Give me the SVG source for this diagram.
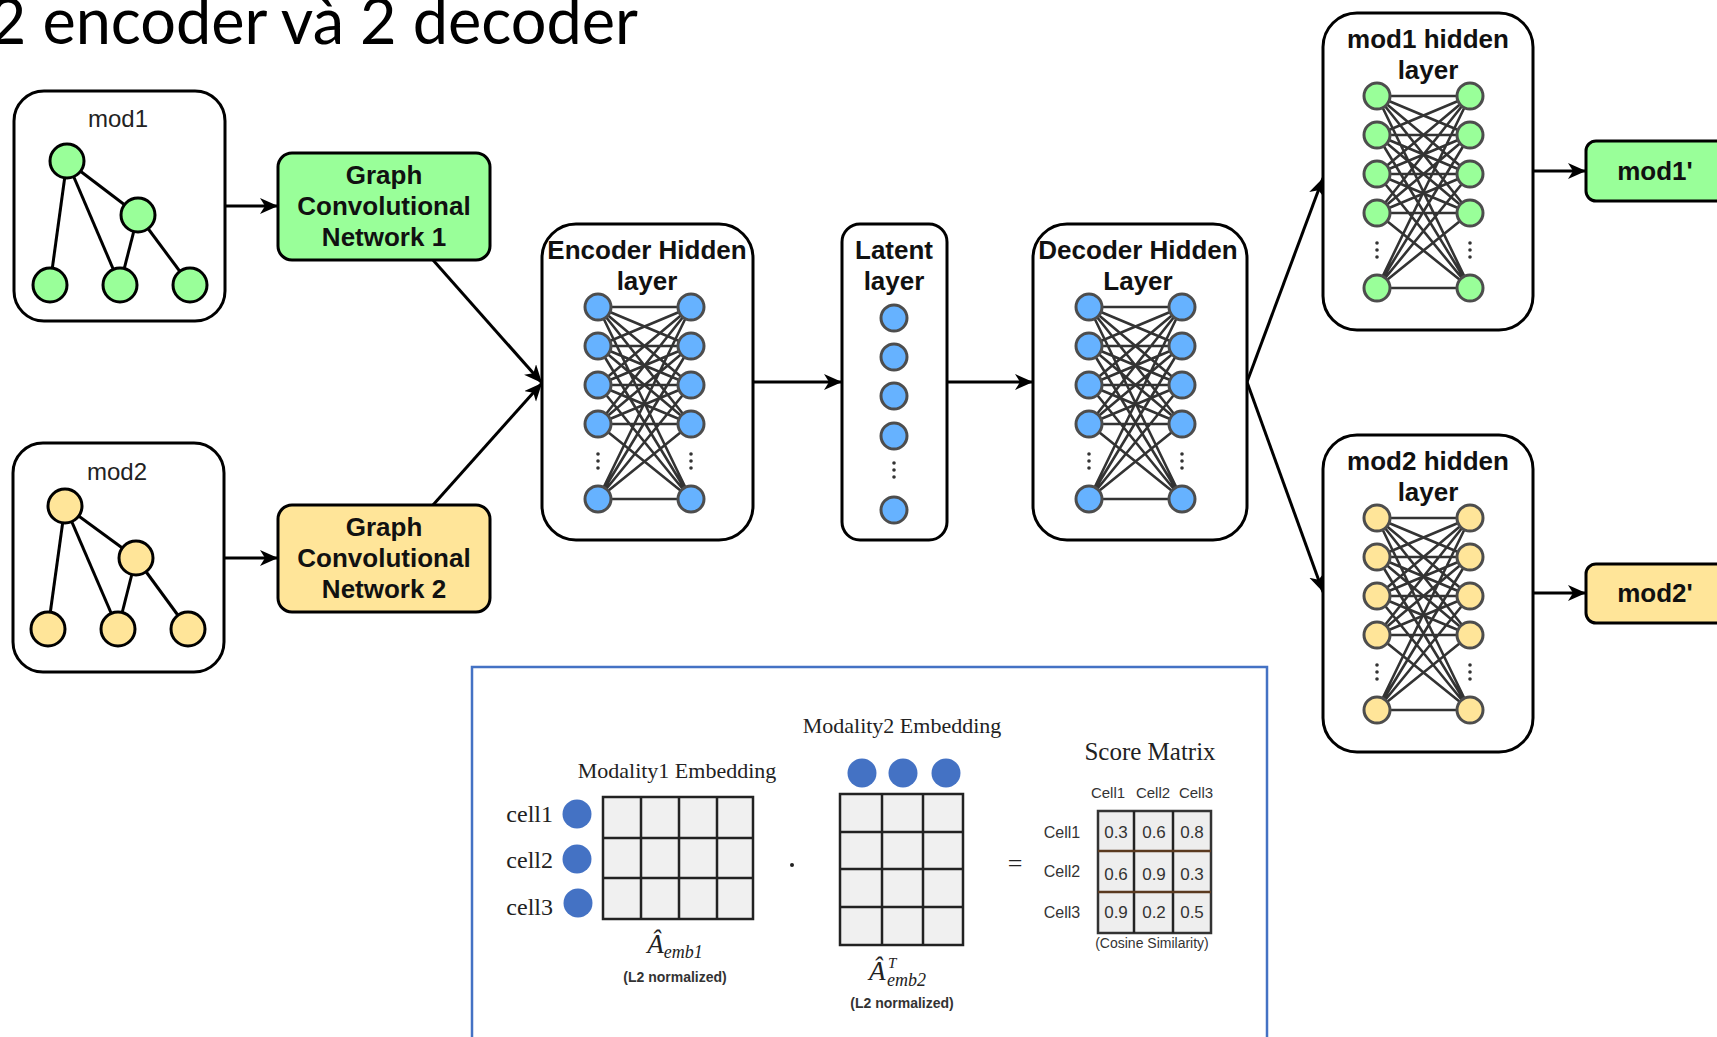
<svg xmlns="http://www.w3.org/2000/svg" xmlns:xlink="http://www.w3.org/1999/xlink" width="1717" height="1037" viewBox="0 0 1717 1037">
<style>
  .box { fill: #ffffff; stroke: #000; stroke-width: 3; }
  .title { font-family: "Liberation Sans", Arial, sans-serif; font-weight: bold; font-size: 26px; fill: #111; text-anchor: middle; }
  .lbl { font-family: "Liberation Sans", Arial, sans-serif; font-size: 24px; fill: #222; text-anchor: middle; }
  .gedge { stroke: #000; stroke-width: 3; fill: none; }
  .gnode { stroke: #000; stroke-width: 3; }
  .green { fill: #99ff99; }
  .yellow { fill: #ffe599; }
  .conn { stroke: #000; stroke-width: 3; fill: none; marker-end: url(#arr); }
  .serif { font-family: "Liberation Serif", "Times New Roman", serif; fill: #222; }
  .small { font-family: "Liberation Sans", Arial, sans-serif; fill: #333; text-anchor: middle; }
  .cell { fill: #f0f0f0; stroke: #222; stroke-width: 2.5; }
  .gl { stroke: #222; stroke-width: 2.5; }
  .bdot { fill: #4472c4; }
</style>
<defs>
  <marker id="arr" markerUnits="userSpaceOnUse" markerWidth="20" markerHeight="18" refX="18" refY="8" orient="auto">
    <path d="M0,0 L18,8 L0,16 L5,8 z" fill="#000"/>
  </marker>
  <g id="net-lines">
    <path stroke="#333" stroke-width="2.6" fill="none" d="M0 0L93 0M0 0L93 39M0 0L93 78M0 0L93 117M0 0L93 192M0 39L93 0M0 39L93 39M0 39L93 78M0 39L93 117M0 39L93 192M0 78L93 0M0 78L93 39M0 78L93 78M0 78L93 117M0 78L93 192M0 117L93 0M0 117L93 39M0 117L93 78M0 117L93 117M0 117L93 192M0 192L93 0M0 192L93 39M0 192L93 78M0 192L93 117M0 192L93 192"/>
    <circle cx="0" cy="147" r="1.8" fill="#333"/><circle cx="0" cy="154" r="1.8" fill="#333"/><circle cx="0" cy="161" r="1.8" fill="#333"/>
    <circle cx="93" cy="147" r="1.8" fill="#333"/><circle cx="93" cy="154" r="1.8" fill="#333"/><circle cx="93" cy="161" r="1.8" fill="#333"/>
  </g>
  <g id="net-nodes" stroke="#4d4d4d" stroke-width="3">
    <circle cx="0" cy="0" r="13"/><circle cx="0" cy="39" r="13"/><circle cx="0" cy="78" r="13"/><circle cx="0" cy="117" r="13"/><circle cx="0" cy="192" r="13"/>
    <circle cx="93" cy="0" r="13"/><circle cx="93" cy="39" r="13"/><circle cx="93" cy="78" r="13"/><circle cx="93" cy="117" r="13"/><circle cx="93" cy="192" r="13"/>
  </g>
</defs>

<rect width="1717" height="1037" fill="#ffffff"/>

<text id="page-title" x="638" y="44" text-anchor="end" font-family="Lato, 'Noto Sans', sans-serif" font-size="63" fill="#000">2 encoder và 2 decoder</text>

<g id="connectors">
  <line class="conn" x1="225" y1="206" x2="278" y2="206"/>
  <line class="conn" x1="224" y1="558" x2="278" y2="558"/>
  <line class="conn" x1="433" y1="260" x2="542" y2="383"/>
  <line class="conn" x1="433" y1="505" x2="542" y2="383"/>
  <line class="conn" x1="753" y1="382" x2="842" y2="382"/>
  <line class="conn" x1="947" y1="382" x2="1033" y2="382"/>
  <line class="conn" x1="1247" y1="382" x2="1323" y2="178"/>
  <line class="conn" x1="1247" y1="382" x2="1323" y2="592"/>
  <line class="conn" x1="1533" y1="171" x2="1586" y2="171"/>
  <line class="conn" x1="1533" y1="593" x2="1586" y2="593"/>
</g>

<g id="mod1">
  <rect class="box" x="14" y="91" width="211" height="230" rx="30"/>
  <text class="lbl" x="118" y="127">mod1</text>
  <line class="gedge" x1="67" y1="161" x2="50" y2="285"/>
  <line class="gedge" x1="67" y1="161" x2="120" y2="285"/>
  <line class="gedge" x1="67" y1="161" x2="138" y2="215"/>
  <line class="gedge" x1="138" y1="215" x2="120" y2="285"/>
  <line class="gedge" x1="138" y1="215" x2="190" y2="285"/>
  <circle class="gnode green" cx="67" cy="161" r="17"/>
  <circle class="gnode green" cx="138" cy="215" r="17"/>
  <circle class="gnode green" cx="50" cy="285" r="17"/>
  <circle class="gnode green" cx="120" cy="285" r="17"/>
  <circle class="gnode green" cx="190" cy="285" r="17"/>
</g>

<g id="mod2">
  <rect class="box" x="13" y="443" width="211" height="229" rx="30"/>
  <text class="lbl" x="117" y="480">mod2</text>
  <line class="gedge" x1="65" y1="506" x2="48" y2="629"/>
  <line class="gedge" x1="65" y1="506" x2="118" y2="629"/>
  <line class="gedge" x1="65" y1="506" x2="136" y2="558"/>
  <line class="gedge" x1="136" y1="558" x2="118" y2="629"/>
  <line class="gedge" x1="136" y1="558" x2="188" y2="629"/>
  <circle class="gnode yellow" cx="65" cy="506" r="17"/>
  <circle class="gnode yellow" cx="136" cy="558" r="17"/>
  <circle class="gnode yellow" cx="48" cy="629" r="17"/>
  <circle class="gnode yellow" cx="118" cy="629" r="17"/>
  <circle class="gnode yellow" cx="188" cy="629" r="17"/>
</g>

<g id="gcn1">
  <rect x="278" y="153" width="212" height="107" rx="14" fill="#99ff99" stroke="#000" stroke-width="3"/>
  <text class="title" x="384" y="184">Graph</text>
  <text class="title" x="384" y="215">Convolutional</text>
  <text class="title" x="384" y="246">Network 1</text>
</g>

<g id="gcn2">
  <rect x="278" y="505" width="212" height="107" rx="14" fill="#ffe599" stroke="#000" stroke-width="3"/>
  <text class="title" x="384" y="536">Graph</text>
  <text class="title" x="384" y="567">Convolutional</text>
  <text class="title" x="384" y="598">Network 2</text>
</g>

<g id="encoder">
  <rect class="box" x="542" y="224" width="211" height="316" rx="34"/>
  <text class="title" x="647" y="259">Encoder Hidden</text>
  <text class="title" x="647" y="290">layer</text>
  <use xlink:href="#net-lines" x="598" y="307"/>
  <use xlink:href="#net-nodes" x="598" y="307" fill="#66b2ff"/>
</g>

<g id="latent">
  <rect class="box" x="842" y="224" width="105" height="316" rx="18"/>
  <text class="title" x="894" y="259">Latent</text>
  <text class="title" x="894" y="290">layer</text>
  <g fill="#66b2ff" stroke="#4d4d4d" stroke-width="3">
    <circle cx="894" cy="318" r="13"/><circle cx="894" cy="357" r="13"/><circle cx="894" cy="396" r="13"/><circle cx="894" cy="436" r="13"/><circle cx="894" cy="510" r="13"/>
  </g>
  <circle cx="894" cy="463" r="1.8" fill="#333"/><circle cx="894" cy="470" r="1.8" fill="#333"/><circle cx="894" cy="477" r="1.8" fill="#333"/>
</g>

<g id="decoder">
  <rect class="box" x="1033" y="224" width="214" height="316" rx="34"/>
  <text class="title" x="1138" y="259">Decoder Hidden</text>
  <text class="title" x="1138" y="290">Layer</text>
  <use xlink:href="#net-lines" x="1089" y="307"/>
  <use xlink:href="#net-nodes" x="1089" y="307" fill="#66b2ff"/>
</g>

<g id="mod1-hidden">
  <rect class="box" x="1323" y="13" width="210" height="317" rx="34"/>
  <text class="title" x="1428" y="48">mod1 hidden</text>
  <text class="title" x="1428" y="79">layer</text>
  <use xlink:href="#net-lines" x="1377" y="96"/>
  <use xlink:href="#net-nodes" x="1377" y="96" fill="#99ff99"/>
</g>

<g id="mod2-hidden">
  <rect class="box" x="1323" y="435" width="210" height="317" rx="34"/>
  <text class="title" x="1428" y="470">mod2 hidden</text>
  <text class="title" x="1428" y="501">layer</text>
  <use xlink:href="#net-lines" x="1377" y="518"/>
  <use xlink:href="#net-nodes" x="1377" y="518" fill="#ffe599"/>
</g>

<g id="mod1-out">
  <rect x="1586" y="141" width="150" height="60" rx="10" fill="#99ff99" stroke="#000" stroke-width="3"/>
  <text class="title" x="1655" y="180">mod1'</text>
</g>

<g id="mod2-out">
  <rect x="1586" y="564" width="150" height="59" rx="10" fill="#ffe599" stroke="#000" stroke-width="3"/>
  <text class="title" x="1655" y="602">mod2'</text>
</g>

<g id="score-panel">
  <rect x="472" y="667" width="795" height="390" fill="#ffffff" stroke="#4472c4" stroke-width="2.5"/>

  <text class="serif" x="677" y="778" font-size="22" text-anchor="middle">Modality1 Embedding</text>
  <text class="serif" x="553" y="822" font-size="24" text-anchor="end">cell1</text>
  <text class="serif" x="553" y="868" font-size="24" text-anchor="end">cell2</text>
  <text class="serif" x="553" y="915" font-size="24" text-anchor="end">cell3</text>
  <circle class="bdot" cx="577" cy="814" r="14.5"/>
  <circle class="bdot" cx="577" cy="859" r="14.5"/>
  <circle class="bdot" cx="578" cy="903" r="14.5"/>
  <rect class="cell" x="603" y="797" width="150" height="122"/>
  <line class="gl" x1="641" y1="797" x2="641" y2="919"/>
  <line class="gl" x1="679" y1="797" x2="679" y2="919"/>
  <line class="gl" x1="717" y1="797" x2="717" y2="919"/>
  <line class="gl" x1="603" y1="838" x2="753" y2="838"/>
  <line class="gl" x1="603" y1="878" x2="753" y2="878"/>
  <text class="serif" x="675" y="953" text-anchor="middle" font-style="italic"><tspan font-size="27">Â</tspan><tspan font-size="18" dy="5">emb1</tspan></text>
  <text class="small" x="675" y="982" font-size="14" font-weight="bold">(L2 normalized)</text>

  <circle cx="792" cy="865" r="2" fill="#222"/>

  <text class="serif" x="902" y="733" font-size="22" text-anchor="middle">Modality2 Embedding</text>
  <circle class="bdot" cx="862" cy="773" r="14.5"/>
  <circle class="bdot" cx="903" cy="773" r="14.5"/>
  <circle class="bdot" cx="946" cy="773" r="14.5"/>
  <rect class="cell" x="840" y="794" width="123" height="151"/>
  <line class="gl" x1="882" y1="794" x2="882" y2="945"/>
  <line class="gl" x1="923" y1="794" x2="923" y2="945"/>
  <line class="gl" x1="840" y1="832" x2="963" y2="832"/>
  <line class="gl" x1="840" y1="869" x2="963" y2="869"/>
  <line class="gl" x1="840" y1="907" x2="963" y2="907"/>
  <text class="serif" x="869" y="980" font-size="27" font-style="italic">Â</text>
  <text class="serif" x="888" y="968" font-size="15" font-style="italic">T</text>
  <text class="serif" x="887" y="986" font-size="18" font-style="italic">emb2</text>
  <text class="small" x="902" y="1008" font-size="14" font-weight="bold">(L2 normalized)</text>

  <text class="serif" x="1015" y="872" font-size="26" text-anchor="middle">=</text>

  <text class="serif" x="1150" y="760" font-size="25" text-anchor="middle">Score Matrix</text>
  <text class="small" x="1108" y="798" font-size="15">Cell1</text>
  <text class="small" x="1153" y="798" font-size="15">Cell2</text>
  <text class="small" x="1196" y="798" font-size="15">Cell3</text>
  <text class="small" x="1062" y="838" font-size="16">Cell1</text>
  <text class="small" x="1062" y="877" font-size="16">Cell2</text>
  <text class="small" x="1062" y="918" font-size="16">Cell3</text>
  <rect x="1098" y="811" width="113" height="122" fill="#eeeeee" stroke="#333" stroke-width="2.5"/>
  <line x1="1134" y1="811" x2="1134" y2="933" stroke="#222" stroke-width="2.5"/>
  <line x1="1173" y1="811" x2="1173" y2="933" stroke="#222" stroke-width="2.5"/>
  <line x1="1098" y1="851" x2="1211" y2="851" stroke="#5a3a20" stroke-width="2.5"/>
  <line x1="1098" y1="892" x2="1211" y2="892" stroke="#5a3a20" stroke-width="2.5"/>
  <g class="small" font-size="17">
    <text x="1116" y="838">0.3</text><text x="1154" y="838">0.6</text><text x="1192" y="838">0.8</text>
    <text x="1116" y="880">0.6</text><text x="1154" y="880">0.9</text><text x="1192" y="880">0.3</text>
    <text x="1116" y="918">0.9</text><text x="1154" y="918">0.2</text><text x="1192" y="918">0.5</text>
  </g>
  <text class="small" x="1152" y="948" font-size="14">(Cosine Similarity)</text>
</g>
</svg>
